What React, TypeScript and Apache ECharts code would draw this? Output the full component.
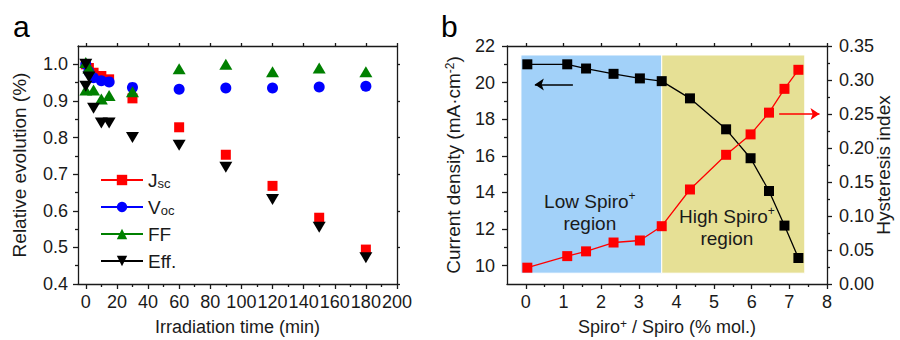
import React, { useEffect, useRef } from 'react';
import * as echarts from 'echarts';

// ---------- Panel a: relative evolution under irradiation ----------
const timeJsc = [0, 2, 5, 10, 15, 30, 60, 90, 120, 150, 180];
const jscValues = [1.0, 0.99, 0.977, 0.968, 0.959, 0.907, 0.828, 0.753, 0.668, 0.581, 0.494];
const timeVoc = [0, 2, 5, 10, 15, 30, 60, 90, 120, 150, 180];
const vocValues = [1.0, 0.98, 0.963, 0.955, 0.952, 0.937, 0.932, 0.935, 0.935, 0.938, 0.94];
const timeFF = [0, 0, 2, 5, 10, 15, 30, 60, 90, 120, 150, 180];
const ffValues = [1.005, 0.93, 0.99, 0.93, 0.905, 0.915, 0.925, 0.988, 1.0, 0.98, 0.99, 0.98];
const timeEff = [0, 0, 2, 5, 10, 15, 30, 60, 90, 120, 150, 180];
const effValues = [1.0, 0.94, 0.965, 0.88, 0.84, 0.84, 0.8, 0.779, 0.719, 0.631, 0.555, 0.472];

const xTicksA = [0, 20, 40, 60, 80, 100, 120, 140, 160, 180, 200];
const xMinorA = [10, 30, 50, 70, 90, 110, 130, 150, 170, 190];
const yTicksA = [0.4, 0.5, 0.6, 0.7, 0.8, 0.9, 1.0];
const yMinorA = [0.45, 0.55, 0.65, 0.75, 0.85, 0.95];

// ---------- Panel b: current density & hysteresis vs Spiro+ ----------
const spiroRatio = [0.04, 1.1, 1.6, 2.33, 3.03, 3.61, 4.36, 5.32, 5.97, 6.46, 6.87, 7.24];
const currentDensity = [21.0, 21.0, 20.77, 20.48, 20.23, 20.08, 19.14, 17.45, 15.87, 14.08, 12.19, 10.42];
const hysteresisIndex = [0.024, 0.041, 0.048, 0.061, 0.064, 0.085, 0.139, 0.19, 0.22, 0.252, 0.287, 0.315];

const xTicksB = [0, 1, 2, 3, 4, 5, 6, 7, 8];
const xMinorB = [0.5, 1.5, 2.5, 3.5, 4.5, 5.5, 6.5, 7.5];
const yTicksB = [10, 12, 14, 16, 18, 20, 22];
const yMinorB = [11, 13, 15, 17, 19, 21];
const yTicksHI = [0, 0.05, 0.1, 0.15, 0.2, 0.25, 0.3, 0.35];
const yMinorHI = [0.025, 0.075, 0.125, 0.175, 0.225, 0.275, 0.325];

// region bounds (x in % mol., y on current-density axis)
const lowRegionX = [-0.13, 3.61];
const highRegionX = [3.61, 7.41];
const regionY = [9.59, 21.51];
const lowRegionLabel = [1.7, 12.93];
const highRegionLabel = [5.34, 12.11];
const leftArrow = [[1.25, 19.9], [0.24, 19.9]];
const rightArrow = [[6.73, 0.25], [7.8, 0.25]];

const FONT = "'Liberation Sans', Arial, Helvetica, sans-serif";
const INK = '#1a1a1a';

const pairs = (xs: number[], ys: number[]) => xs.map((x, i) => [x, ys[i]]);

const lineStyle = { color: INK, width: 1.3 };

function labelAxis(extra: any) {
  return {
    type: 'value',
    axisLine: { show: true, onZero: false, lineStyle },
    axisTick: { show: true, length: 5, lineStyle },
    splitLine: { show: false },
    nameLocation: 'middle',
    nameMoveOverlap: false,
    nameTextStyle: { fontSize: 19, color: INK, fontFamily: FONT },
    ...extra,
  };
}

function tickOnlyAxis(extra: any, showLine: boolean, ticks: number[], len: number) {
  return {
    type: 'value',
    axisLine: { show: showLine, onZero: false, lineStyle },
    axisTick: { show: true, customValues: ticks, length: len, lineStyle },
    axisLabel: { show: false },
    splitLine: { show: false },
    ...extra,
  };
}

const labelStyle = (custom: number[], margin: number, formatter?: any) => ({
  customValues: custom,
  fontSize: 18,
  color: INK,
  fontFamily: FONT,
  margin,
  formatter,
});

const gridA = { left: 78, top: 46, width: 319, height: 238, outerBoundsMode: 'none', containLabel: false };
const gridB = { left: 507, top: 46, width: 320, height: 238, outerBoundsMode: 'none', containLabel: false };

const downTriangle = 'path://M0,0 L14,0 L7,12 Z';

function buildOption(): any {
  const scatterLine = (name: string, xs: number[], ys: number[], color: string, symbol: string, size: any) => ({
    name,
    type: 'line',
    xAxisIndex: 0,
    yAxisIndex: 0,
    data: pairs(xs, ys),
    symbol,
    symbolSize: size,
    showSymbol: true,
    itemStyle: { color },
    lineStyle: { color, width: 2, opacity: 0 },
    emphasis: { disabled: true },
    silent: true,
  });

  const supRich = { sup: { fontSize: 12, verticalAlign: 'top', color: INK, fontFamily: FONT } };

  return {
    animation: false,
    backgroundColor: '#ffffff',
    textStyle: { fontFamily: FONT },
    grid: [gridA, { ...gridA }, gridB, { ...gridB }],
    xAxis: [
      labelAxis({
        gridIndex: 0, min: -5, max: 200, position: 'bottom',
        axisTick: { show: true, customValues: xTicksA, length: 5, lineStyle },
        axisLabel: labelStyle(xTicksA, 9),
        name: 'Irradiation time (min)', nameGap: 34,
        nameTextStyle: { fontSize: 18, color: INK, fontFamily: FONT },
      }),
      tickOnlyAxis({ gridIndex: 1, min: -5, max: 200, position: 'bottom' }, false, xMinorA, 3),
      tickOnlyAxis({ gridIndex: 1, min: -5, max: 200, position: 'top' }, true, xTicksA, 3),
      labelAxis({
        gridIndex: 2, min: -0.5, max: 8, position: 'bottom',
        axisTick: { show: true, customValues: xTicksB, length: 5, lineStyle },
        axisLabel: labelStyle(xTicksB, 9),
        name: 'Spiro{sup|+} / Spiro (% mol.)', nameGap: 34,
        nameTextStyle: { fontSize: 18, color: INK, fontFamily: FONT, rich: supRich },
      }),
      tickOnlyAxis({ gridIndex: 3, min: -0.5, max: 8, position: 'bottom' }, false, xMinorB, 3),
      tickOnlyAxis({ gridIndex: 3, min: -0.5, max: 8, position: 'top' }, true, xTicksB, 3),
    ],
    yAxis: [
      labelAxis({
        gridIndex: 0, min: 0.4, max: 1.05, position: 'left',
        axisTick: { show: true, customValues: yTicksA, length: 5, lineStyle },
        axisLabel: labelStyle(yTicksA, 10, (v: number) => v.toFixed(1)),
        name: 'Relative evolution (%)', nameGap: 49,
      }),
      tickOnlyAxis({ gridIndex: 1, min: 0.4, max: 1.05, position: 'left' }, false, yMinorA, 3),
      tickOnlyAxis({ gridIndex: 1, min: 0.4, max: 1.05, position: 'right' }, true, yTicksA, 3),
      labelAxis({
        gridIndex: 2, min: 9, max: 22, position: 'left',
        axisTick: { show: true, customValues: yTicksB, length: 5, lineStyle },
        axisLabel: labelStyle(yTicksB, 12),
        name: 'Current density (mA·cm{sup|-2})', nameGap: 44,
        nameTextStyle: { fontSize: 19, color: INK, fontFamily: FONT, rich: supRich },
      }),
      labelAxis({
        gridIndex: 2, min: 0, max: 0.35, position: 'right',
        axisTick: { show: true, customValues: yTicksHI, length: 5, lineStyle },
        axisLabel: labelStyle(yTicksHI, 12, (v: number) => v.toFixed(2)),
        name: 'Hysteresis index', nameGap: 47,
      }),
      tickOnlyAxis({ gridIndex: 3, min: 9, max: 22, position: 'left' }, false, yMinorB, 3),
      tickOnlyAxis({ gridIndex: 3, min: 0, max: 0.35, position: 'right' }, false, yMinorHI, 3),
    ],
    legend: {
      show: true,
      orient: 'vertical',
      left: 95,
      top: 165,
      itemWidth: 42,
      itemHeight: 13,
      itemGap: 7,
      selectedMode: false,
      data: ['Jsc', 'Voc', 'FF', 'Eff.'],
      lineStyle: { opacity: 1, width: 2 },
      formatter: (name: string) =>
        name === 'Jsc' ? 'J{sub|sc}' : name === 'Voc' ? 'V{sub|oc}' : name,
      textStyle: {
        fontSize: 19,
        color: INK,
        fontFamily: FONT,
        lineHeight: 20,
        rich: {
          sub: { fontSize: 13, color: INK, fontFamily: FONT, verticalAlign: 'bottom', lineHeight: 10 },
        },
      },
    },
    graphic: [
      { type: 'text', left: 13, top: 11, style: { text: 'a', fontSize: 30, fill: '#000', fontFamily: FONT } },
      { type: 'text', left: 441, top: 11, style: { text: 'b', fontSize: 30, fill: '#000', fontFamily: FONT } },
    ],
    series: [
      scatterLine('Jsc', timeJsc, jscValues, '#ff0000', 'rect', 10),
      scatterLine('Voc', timeVoc, vocValues, '#0000ff', 'circle', 11),
      scatterLine('FF', timeFF, ffValues, '#008000', 'triangle', [13, 11]),
      scatterLine('Eff.', timeEff, effValues, '#000000', downTriangle, [13, 11]),
      // background regions + region labels (drawn under the curves)
      {
        name: 'regions',
        type: 'line',
        xAxisIndex: 3,
        yAxisIndex: 3,
        z: 1,
        data: pairs(spiroRatio, currentDensity),
        symbol: 'none',
        lineStyle: { opacity: 0 },
        silent: true,
        emphasis: { disabled: true },
        markArea: {
          silent: true,
          itemStyle: { borderColor: '#ffffff', borderWidth: 1 },
          data: [
            [
              { coord: [lowRegionX[0], regionY[0]], itemStyle: { color: '#a2d1f9' } },
              { coord: [lowRegionX[1], regionY[1]] },
            ],
            [
              { coord: [highRegionX[0], regionY[0]], itemStyle: { color: '#e6e095' } },
              { coord: [highRegionX[1], regionY[1]] },
            ],
          ],
        },
        markPoint: {
          silent: true,
          symbol: 'circle',
          symbolSize: 0,
          itemStyle: { color: 'transparent' },
          label: {
            show: true,
            position: 'inside',
            color: INK,
            fontSize: 19,
            lineHeight: 22,
            fontFamily: FONT,
            align: 'center',
            formatter: (p: any) => p.name,
            rich: supRich,
          },
          data: [
            { name: 'Low Spiro{sup|+}\nregion', coord: lowRegionLabel },
            { name: 'High Spiro{sup|+}\nregion', coord: highRegionLabel },
          ],
        },
      },
      {
        name: 'Current density',
        type: 'line',
        xAxisIndex: 3,
        yAxisIndex: 3,
        z: 3,
        data: pairs(spiroRatio, currentDensity),
        symbol: 'rect',
        symbolSize: 10,
        itemStyle: { color: '#000000' },
        lineStyle: { color: '#000000', width: 1.3 },
        silent: true,
        emphasis: { disabled: true },
        markLine: {
          silent: true,
          symbol: ['none', 'arrow'],
          symbolSize: 9,
          label: { show: false },
          lineStyle: { color: '#000000', width: 1.5, type: 'solid' },
          emphasis: { disabled: true },
          data: [[{ coord: leftArrow[0] }, { coord: leftArrow[1] }]],
        },
      },
      {
        name: 'Hysteresis index',
        type: 'line',
        xAxisIndex: 3,
        yAxisIndex: 4,
        z: 3,
        data: pairs(spiroRatio, hysteresisIndex),
        symbol: 'rect',
        symbolSize: 10,
        itemStyle: { color: '#ff0000' },
        lineStyle: { color: '#ff0000', width: 1.3 },
        silent: true,
        emphasis: { disabled: true },
        markLine: {
          silent: true,
          symbol: ['none', 'arrow'],
          symbolSize: 9,
          label: { show: false },
          lineStyle: { color: '#ff0000', width: 1.5, type: 'solid' },
          emphasis: { disabled: true },
          data: [[{ coord: rightArrow[0] }, { coord: rightArrow[1] }]],
        },
      },
    ],
  };
}

export default function App() {
  const ref = useRef<HTMLDivElement>(null);
  useEffect(() => {
    if (!ref.current) return;
    const chart = echarts.init(ref.current, undefined, { renderer: 'svg' });
    chart.setOption(buildOption());
    return () => chart.dispose();
  }, []);
  return (
    <div
      ref={ref}
      style={{ position: 'absolute', left: 0, top: 0, width: 900, height: 340, background: '#fff' }}
    />
  );
}
